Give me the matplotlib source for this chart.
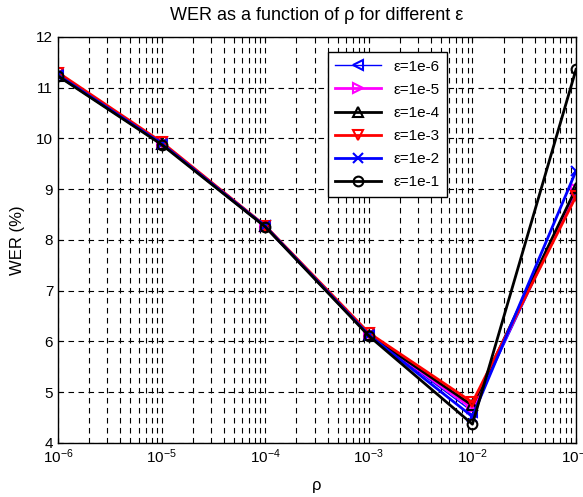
import numpy as np
import matplotlib
matplotlib.use('Agg')
from matplotlib import pyplot as plt
from matplotlib.ticker import LogLocator, NullFormatter

plt.rcParams['font.family'] = ['Liberation Sans', 'DejaVu Sans']

# Data
rho = [1e-6, 1e-5, 1e-4, 1e-3, 1e-2, 1e-1]
wer_1e6 = [11.25, 9.90, 8.27, 6.13, 4.62, 8.95]
wer_1e5 = [11.26, 9.91, 8.27, 6.14, 4.68, 9.00]
wer_1e4 = [11.24, 9.90, 8.27, 6.13, 4.74, 9.02]
wer_1e3 = [11.30, 9.93, 8.28, 6.17, 4.80, 8.86]
wer_1e2 = [11.25, 9.90, 8.27, 6.13, 4.52, 9.36]
wer_1e1 = [11.23, 9.88, 8.26, 6.11, 4.37, 11.36]

labels = ['\u03b5=1e-6', '\u03b5=1e-5', '\u03b5=1e-4', '\u03b5=1e-3', '\u03b5=1e-2', '\u03b5=1e-1']
series = [wer_1e6, wer_1e5, wer_1e4, wer_1e3, wer_1e2, wer_1e1]
colors = ['#0000ff', '#ff00ff', '#000000', '#ff0000', '#0000ff', '#000000']
markers = ['<', '>', '^', 'v', 'x', 'o']
widths = [1.0, 2.0, 2.0, 2.0, 2.0, 2.0]

fig = plt.figure(figsize=(5.83, 4.97), dpi=100)
ax = fig.add_axes([0.0995, 0.1087, 0.8885, 0.8169])

for y, lab, c, m, lw in zip(series, labels, colors, markers, widths):
    ax.plot(rho, y, color=c, marker=m, lw=lw, ms=7, mew=1.5,
            markerfacecolor='none', label=lab)

ax.set_xscale('log')
ax.set_xlim(1e-6, 1e-1)
ax.set_ylim(4, 12)
ax.xaxis.set_major_locator(LogLocator(base=10, numticks=10))
ax.xaxis.set_minor_locator(LogLocator(base=10, subs=np.arange(2, 10), numticks=10))
ax.xaxis.set_minor_formatter(NullFormatter())
ax.set_yticks(range(4, 13))

ax.grid(True, which='major', axis='both', color='k', linestyle=(0, (5, 4)), linewidth=0.8)
ax.grid(True, which='minor', axis='x', color='k', linestyle=(0, (5, 4)), linewidth=0.8)
ax.tick_params(which='both', direction='in', top=True, right=True, labelsize=11)
for s in ax.spines.values():
    s.set_linewidth(1.0)

ax.set_title('WER as a function of \u03c1 for different \u03b5', fontsize=13, pad=12)
ax.set_xlabel('\u03c1', fontsize=12, labelpad=8)
ax.set_ylabel('WER (%)', fontsize=12, labelpad=8)

leg = ax.legend(loc='upper left', bbox_to_anchor=(0.506, 0.982), fontsize=11,
                fancybox=False, framealpha=1, edgecolor='k', handlelength=3,
                borderpad=0.5, labelspacing=0.6)
leg.get_frame().set_linewidth(1.0)

fig.savefig('out.png', dpi=100)
